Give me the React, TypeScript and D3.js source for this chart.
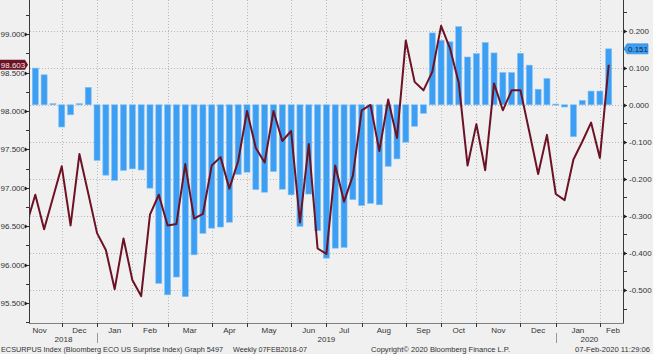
import { useEffect, useRef } from "react"
import * as d3 from "d3"

const W = 653
const H = 354

// weekly Friday observations, first one is 2 Nov 2018 (just left of the visible window)
const firstFriday = new Date(2018, 10, 2)

// line series (left axis), one value per Friday from 2 Nov 2018
const lineValues = [
  96.52, 96.91, 96.46, 96.87, 97.28, 96.51, 97.44, 96.93, 96.41, 96.19, 95.68, 96.34, 95.8, 95.59, 96.65, 96.91,
  96.51, 96.53, 97.31, 96.6, 96.66, 97.29, 97.4, 96.99, 97.35, 98.0, 97.52, 97.33, 98.0, 97.61, 97.74, 96.55, 97.57,
  96.21, 96.14, 97.29, 96.82, 97.16, 98.01, 98.08, 97.48, 98.15, 97.65, 98.92, 98.38, 98.27, 98.51, 99.11, 98.82,
  98.37, 97.29, 97.83, 97.23, 98.36, 98.01, 98.27, 98.27, 97.73, 97.18, 97.69, 96.92, 96.84, 97.37, 97.6, 97.85,
  97.39, 98.603,
]

// ECSURPUS bars (right axis), one value per Friday from 9 Nov 2018
const surpriseValues = [
  0.099, 0.081, 0.003, -0.06, -0.027, 0.003, 0.047, -0.15, -0.19, -0.204, -0.177, -0.173, -0.176, -0.225, -0.482,
  -0.513, -0.465, -0.518, -0.405, -0.347, -0.333, -0.33, -0.317, -0.188, -0.182, -0.229, -0.236, -0.18, -0.228,
  -0.243, -0.328, -0.241, -0.34, -0.414, -0.387, -0.385, -0.256, -0.272, -0.266, -0.27, -0.166, -0.146, -0.101,
  -0.058, -0.023, 0.194, 0.174, 0.17, 0.211, 0.129, 0.138, 0.168, 0.14, 0.087, 0.087, 0.139, 0.107, 0.042, 0.071,
  0.002, -0.006, -0.086, 0.012, 0.037, 0.037, 0.151,
]

const leftTicks = [95.5, 96.0, 96.5, 97.0, 97.5, 98.0, 98.5, 99.0]
const rightTicks = [-0.5, -0.4, -0.3, -0.2, -0.1, 0.0, 0.1, 0.2]
const years = ["2018", "2019", "2020"]

const footerLeft = "ECSURPUS Index (Bloomberg ECO US Surprise Index) Graph 5497"
const footerMid = "Weekly 07FEB2018-07"
const footerCopy = "Copyright\u00a9 2020 Bloomberg Finance L.P."
const footerStamp = "07-Feb-2020 11:29:06"

const WEEK = 7 * 24 * 3600 * 1000
const FONT = "'Liberation Sans', Arial, sans-serif"

export default function App() {
  const svgRef = useRef<SVGSVGElement>(null)

  useEffect(() => {
    if (!svgRef.current) return
    document.body.style.margin = "0"

    const svg = d3.select(svgRef.current)
    svg.selectAll("*").remove()

    const left = 30
    const right = 623
    const top = 0
    const bottom = 323

    const weekIdx = (d: Date) => Math.round((+d - +firstFriday) / WEEK)

    // x over week index (0 = 2 Nov 2018)
    const x = d3.scaleLinear().domain([0.4, 67.62]).range([left, right])
    const yL = d3.scaleLinear().domain([95.2395, 99.4468]).range([bottom, top])
    const yR = d3.scaleLinear().domain([-0.5891, 0.2829]).range([bottom, top])

    svg.append("rect").attr("width", W).attr("height", H).attr("fill", "#f0f0f0")

    svg
      .append("defs")
      .append("clipPath")
      .attr("id", "plotClip")
      .append("rect")
      .attr("x", left)
      .attr("y", top)
      .attr("width", right - left)
      .attr("height", bottom - top)

    // month ticks sit on the last Friday of each month
    const months = d3.timeMonth.range(new Date(2018, 9, 1), new Date(2020, 2, 1))
    const monthTicks = months.map((m) => {
      const lastDay = d3.timeDay.offset(d3.timeMonth.offset(m, 1), -1)
      return { month: m, idx: weekIdx(d3.timeFriday.floor(lastDay)) }
    })
    const tickIdx = monthTicks.slice(1, -1).map((d) => d.idx)

    // horizontal grid
    svg
      .append("g")
      .selectAll("line")
      .data(rightTicks)
      .join("line")
      .attr("x1", left)
      .attr("x2", right)
      .attr("y1", (d) => Math.round(yR(d)) + 0.5)
      .attr("y2", (d) => Math.round(yR(d)) + 0.5)
      .attr("stroke", "#b8b8b8")
      .attr("stroke-width", 1)
      .attr("stroke-dasharray", "1,2")

    // vertical grid
    svg
      .append("g")
      .selectAll("line")
      .data(tickIdx)
      .join("line")
      .attr("x1", (d) => Math.round(x(d)) + 0.5)
      .attr("x2", (d) => Math.round(x(d)) + 0.5)
      .attr("y1", top)
      .attr("y2", bottom)
      .attr("stroke", "#b8b8b8")
      .attr("stroke-width", 1)
      .attr("stroke-dasharray", "1,2")

    const plot = svg.append("g").attr("clip-path", "url(#plotClip)")

    // bars
    plot
      .selectAll(".bar")
      .data(surpriseValues)
      .join("rect")
      .attr("class", "bar")
      .attr("x", (_, i) => x(i + 1) - 3)
      .attr("width", 6)
      .attr("y", (d) => Math.min(yR(d), yR(0)))
      .attr("height", (d) => Math.max(1, Math.abs(yR(d) - yR(0))))
      .attr("fill", "#3d9ff3")
      .attr("stroke", "#7fc0f7")
      .attr("stroke-width", 0.6)

    // line
    const line = d3
      .line<number>()
      .x((_, i) => x(i))
      .y((d) => yL(d))
    plot
      .append("path")
      .datum(lineValues)
      .attr("fill", "none")
      .attr("stroke", "#6c1224")
      .attr("stroke-width", 2)
      .attr("stroke-linejoin", "round")
      .attr("d", line)

    // axis lines
    svg.append("line").attr("x1", left - 0.5).attr("x2", left - 0.5).attr("y1", top).attr("y2", bottom).attr("stroke", "#3a3a3a")
    svg.append("line").attr("x1", right + 0.5).attr("x2", right + 0.5).attr("y1", top).attr("y2", bottom).attr("stroke", "#3a3a3a")
    svg.append("line").attr("x1", left - 1).attr("x2", right + 1).attr("y1", bottom + 0.5).attr("y2", bottom + 0.5).attr("stroke", "#808080")

    // left axis ticks
    const leftMinor = d3.range(381, 398).map((v) => v / 4)
    svg
      .append("g")
      .selectAll("line")
      .data(leftMinor)
      .join("line")
      .attr("x1", left - 4)
      .attr("x2", left - 1)
      .attr("y1", (d) => Math.round(yL(d)) + 0.5)
      .attr("y2", (d) => Math.round(yL(d)) + 0.5)
      .attr("stroke", "#333")
    svg
      .append("g")
      .selectAll("path")
      .data(leftTicks)
      .join("path")
      .attr("d", (d) => {
        const yy = Math.round(yL(d)) + 0.5
        return `M${left - 5},${yy - 2}L${left - 2},${yy}L${left - 5},${yy + 2}Z`
      })
      .attr("fill", "#222")
    svg
      .append("g")
      .selectAll("text")
      .data(leftTicks)
      .join("text")
      .attr("x", left - 5)
      .attr("y", (d) => yL(d) + 3)
      .attr("text-anchor", "end")
      .attr("font-family", FONT)
      .attr("font-size", 8)
      .attr("fill", "#333")
      .text((d) => d3.format(".3f")(d))

    // right axis ticks
    const rightMinor = d3.range(-11, 6).map((v) => v / 20)
    svg
      .append("g")
      .selectAll("line")
      .data(rightMinor)
      .join("line")
      .attr("x1", right + 1)
      .attr("x2", right + 4)
      .attr("y1", (d) => Math.round(yR(d)) + 0.5)
      .attr("y2", (d) => Math.round(yR(d)) + 0.5)
      .attr("stroke", "#333")
    svg
      .append("g")
      .selectAll("path")
      .data(rightTicks)
      .join("path")
      .attr("d", (d) => {
        const yy = Math.round(yR(d)) + 0.5
        return `M${right + 1},${yy - 2}L${right + 4},${yy}L${right + 1},${yy + 2}Z`
      })
      .attr("fill", "#222")
    svg
      .append("g")
      .selectAll("text")
      .data(rightTicks)
      .join("text")
      .attr("x", right + 6)
      .attr("y", (d) => yR(d) + 3)
      .attr("font-family", FONT)
      .attr("font-size", 8)
      .attr("fill", "#333")
      .text((d) => d3.format(".3f")(d).replace("\u2212", "-"))

    // bottom ticks
    svg
      .append("g")
      .selectAll("line")
      .data(tickIdx)
      .join("line")
      .attr("x1", (d) => Math.round(x(d)) + 0.5)
      .attr("x2", (d) => Math.round(x(d)) + 0.5)
      .attr("y1", bottom)
      .attr("y2", bottom + 4)
      .attr("stroke", "#333")

    // month labels, centred on each month span (kept inside the plot)
    const fmtMonth = d3.timeFormat("%b")
    const monthLabels = monthTicks.slice(1).map((d, i) => {
      const w = 14
      const mid = (x(monthTicks[i].idx) + x(d.idx)) / 2
      return { text: fmtMonth(d.month), x: Math.max(left + w / 2, Math.min(right - w / 2 - 3, mid)) }
    })
    svg
      .append("g")
      .selectAll("text")
      .data(monthLabels)
      .join("text")
      .attr("x", (d) => d.x)
      .attr("y", 333)
      .attr("text-anchor", "middle")
      .attr("font-family", FONT)
      .attr("font-size", 8)
      .attr("fill", "#333")
      .text((d) => d.text)

    // years
    const yearEnds = monthTicks.filter((d) => d.month.getMonth() === 11 && d.idx > 0 && d.idx < 66).map((d) => d.idx)
    const edges = [left, ...yearEnds.map((d) => x(d)), right]
    svg
      .append("g")
      .selectAll("text")
      .data(years)
      .join("text")
      .attr("x", (_, i) => (edges[i] + edges[i + 1]) / 2)
      .attr("y", 342)
      .attr("text-anchor", "middle")
      .attr("font-family", FONT)
      .attr("font-size", 8)
      .attr("fill", "#333")
      .text((d) => d)
    svg
      .append("g")
      .selectAll("line")
      .data(yearEnds)
      .join("line")
      .attr("x1", (d) => Math.round(x(d)) + 0.5)
      .attr("x2", (d) => Math.round(x(d)) + 0.5)
      .attr("y1", 333)
      .attr("y2", 343)
      .attr("stroke", "#999")

    // last value tags
    const lastLine = lineValues[lineValues.length - 1]
    const ly = yL(lastLine)
    svg
      .append("path")
      .attr("d", `M0,${ly - 5}L25,${ly - 5}L28,${ly}L25,${ly + 5}L0,${ly + 5}Z`)
      .attr("fill", "#6c1224")
    svg
      .append("text")
      .attr("x", 13)
      .attr("y", ly + 3)
      .attr("text-anchor", "middle")
      .attr("font-family", FONT)
      .attr("font-size", 8)
      .attr("fill", "#f4e6e8")
      .text(d3.format(".3f")(lastLine))

    const lastBar = surpriseValues[surpriseValues.length - 1]
    const ry = yR(lastBar)
    svg
      .append("path")
      .attr("d", `M${right + 1},${ry}L${right + 4},${ry - 5}L${right + 25},${ry - 5}L${right + 25},${ry + 5}L${right + 4},${ry + 5}Z`)
      .attr("fill", "#3d9ff3")
      .attr("stroke", "#2a7fd0")
      .attr("stroke-width", 0.6)
    svg
      .append("text")
      .attr("x", right + 15)
      .attr("y", ry + 3)
      .attr("text-anchor", "middle")
      .attr("font-family", FONT)
      .attr("font-size", 8)
      .attr("fill", "#0d2440")
      .text(d3.format(".3f")(lastBar))

    // footer
    const footer = [
      { text: footerLeft, x: 1, len: 222 },
      { text: footerMid, x: 233, len: 74 },
      { text: footerCopy, x: 371, len: 139 },
      { text: footerStamp, x: 575, len: 75 },
    ]
    svg
      .append("g")
      .selectAll("text")
      .data(footer)
      .join("text")
      .attr("x", (d) => d.x)
      .attr("y", 352)
      .attr("textLength", (d) => d.len)
      .attr("lengthAdjust", "spacingAndGlyphs")
      .attr("font-family", FONT)
      .attr("font-size", 7.5)
      .attr("fill", "#333")
      .text((d) => d.text)
  }, [])

  return <svg ref={svgRef} width={W} height={H} style={{ display: "block" }}></svg>
}
